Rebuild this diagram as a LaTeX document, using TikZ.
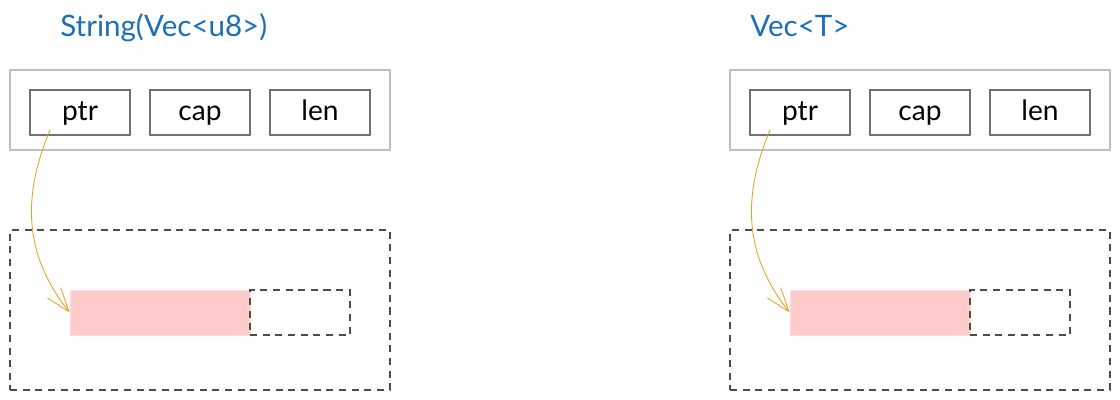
\documentclass[tikz,border=0pt]{standalone}
\usepackage{fontspec}
\setmainfont{Lato}
\usepackage{tikz}
\usetikzlibrary{arrows.meta}

\definecolor{titleblue}{HTML}{1A6FB8}
\definecolor{ptrorange}{HTML}{E8A020}
\definecolor{bufpink}{HTML}{FFCCCC}

\begin{document}
\begin{tikzpicture}[x=0.025cm, y=-0.025cm,
    title/.style={anchor=base west, text=titleblue, font=\fontsize{21}{24}\selectfont, inner sep=0pt},
    stackbox/.style={draw=black!25, line width=1pt, minimum width=9.5cm, minimum height=2cm},
    field/.style={draw=black!55, line width=1pt, minimum width=2.5cm, minimum height=1.125cm, inner ysep=0pt, text height=1.25em, text depth=0.15em, font=\fontsize{20}{24}\selectfont},
    heapbox/.style={draw=black!70, dash pattern=on 5pt off 4pt, line width=1pt, minimum width=9.5cm, minimum height=4cm},
    buf/.style={fill=bufpink, draw=bufpink!70!white, minimum width=4.5cm, minimum height=1.125cm},
    spare/.style={draw=black!70, dash pattern=on 5pt off 4pt, line width=1pt, minimum width=2.5cm, minimum height=1.125cm},
    ptrarrow/.style={draw=ptrorange, line width=0.6pt, -{Straight Barb[length=17pt, width=12pt, line width=0.6pt]}}]
    \useasboundingbox (0,0) rectangle (1120,400);

    % String (left)
    \node (titleA) at (60,37) [title] {String(Vec<u8>)};
    \node (stackA) at (200,110) [stackbox] {};
    \node (ptrA) at (80,112.5) [field] {ptr};
    \node (capA) at (200,112.5) [field] {cap};
    \node (lenA) at (320,112.5) [field] {len};

    % heap of String
    \node (heapA) at (200,310) [heapbox] {};
    \node (bufA) at (160,312.5) [buf] {};
    \node (spareA) at (300,312.5) [spare] {};
    \coordinate (startA) at (50,130);
    \draw[ptrarrow] (startA) .. controls (25,190) and (20,250) .. (bufA.west);

    % Vec (right)
    \node (titleB) at (750,37) [title] {Vec<T>};
    \node (stackB) at (920,110) [stackbox] {};
    \node (ptrB) at (800,112.5) [field] {ptr};
    \node (capB) at (920,112.5) [field] {cap};
    \node (lenB) at (1040,112.5) [field] {len};

    % heap of Vec
    \node (heapB) at (920,310) [heapbox] {};
    \node (bufB) at (880,312.5) [buf] {};
    \node (spareB) at (1020,312.5) [spare] {};
    \coordinate (startB) at (770,130);
    \draw[ptrarrow] (startB) .. controls (745,190) and (740,250) .. (bufB.west);
\end{tikzpicture}
\end{document}
